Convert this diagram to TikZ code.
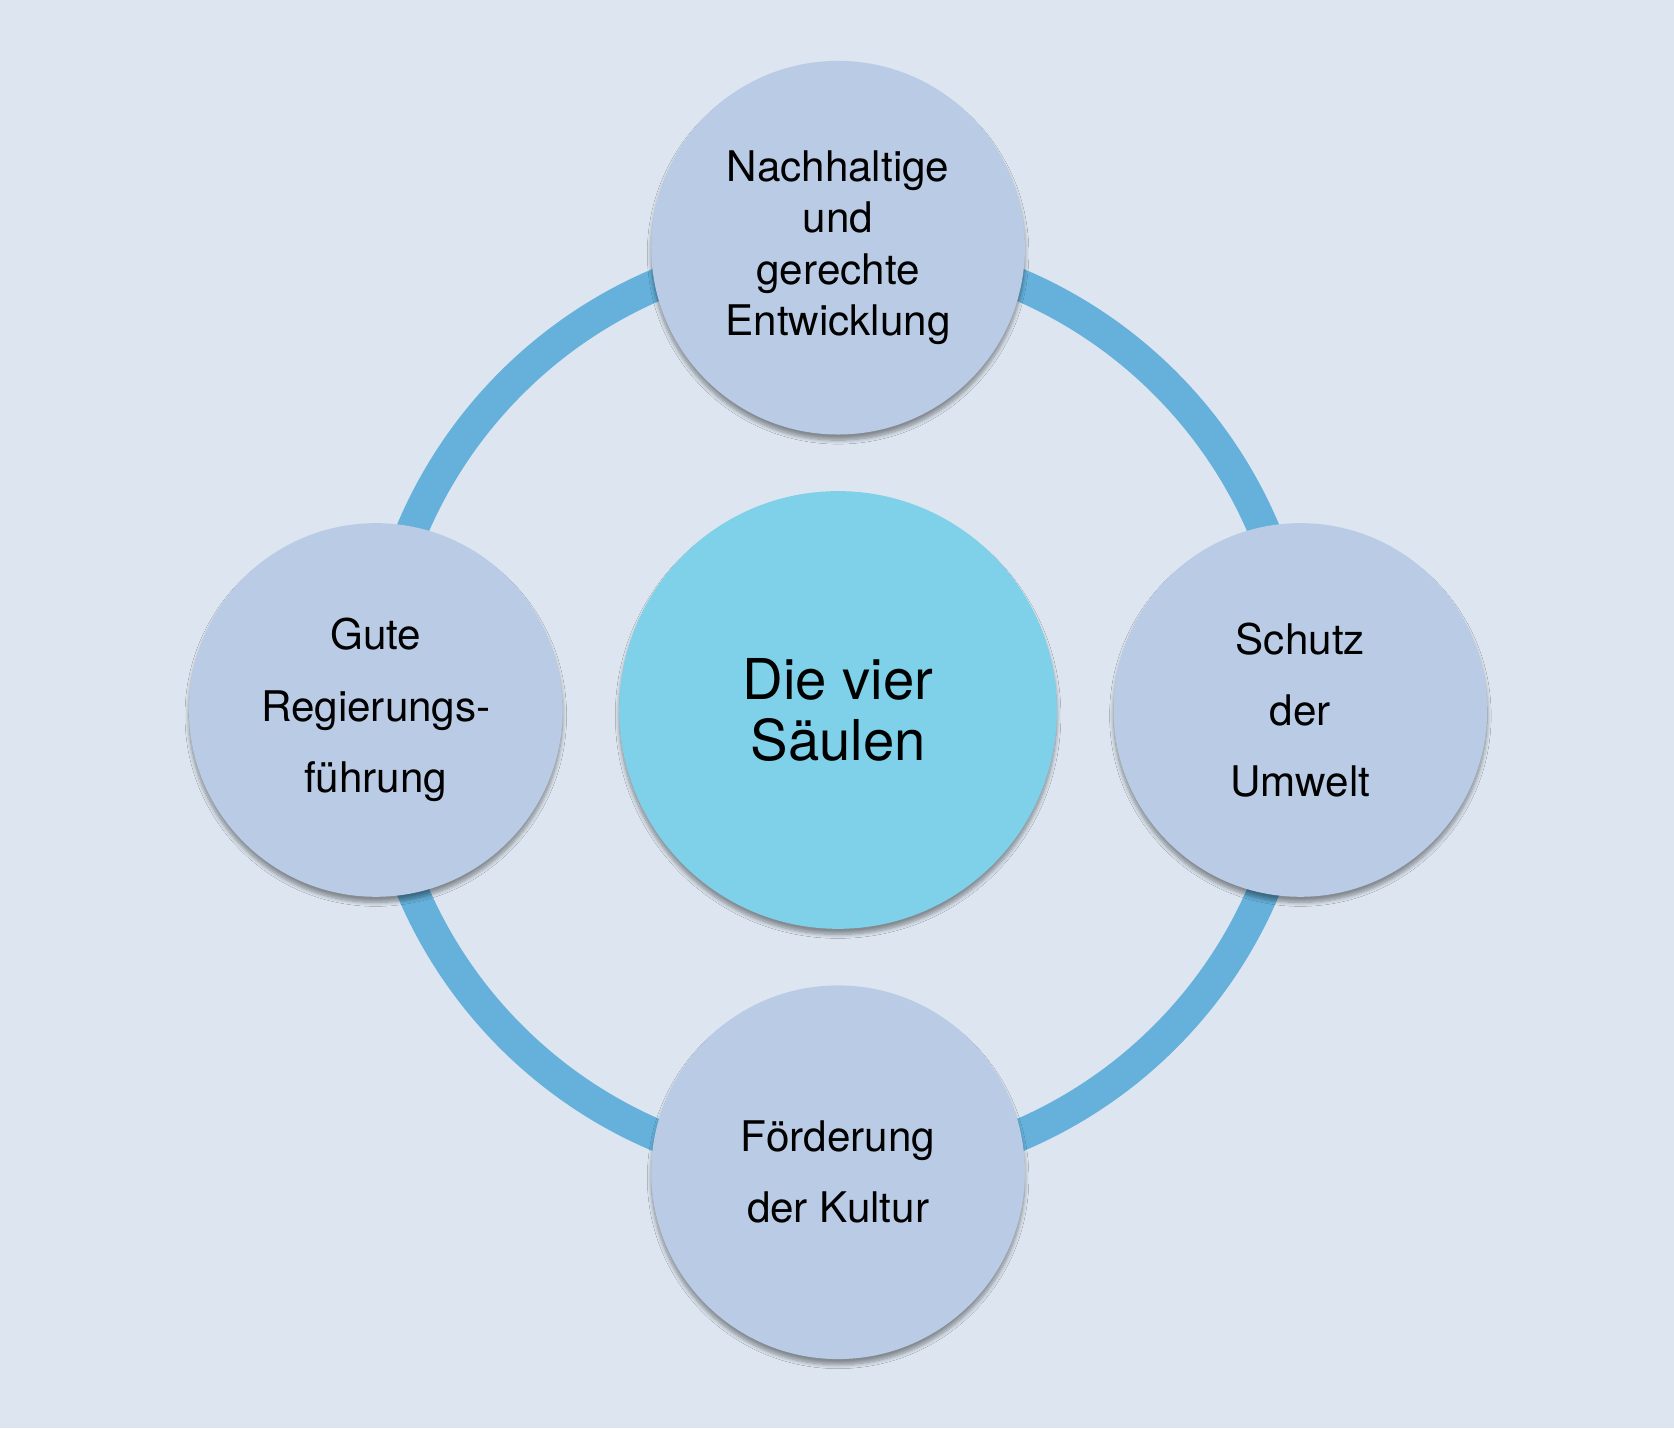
\documentclass[tikz,border=0pt]{standalone}
\usepackage{fontspec}
\setmainfont{TeX Gyre Heros}
\usetikzlibrary{shadows.blur}
\definecolor{bg}{HTML}{DDE6F0}
\definecolor{ring}{HTML}{65B1DB}
\definecolor{sat}{HTML}{BACCE5}
\definecolor{hub}{HTML}{7FD0E9}
\begin{document}
\begin{tikzpicture}[x=0.02cm,y=-0.02cm,
  satnode/.style={circle,fill=sat,minimum size=350*0.02cm,inner sep=0pt,align=center,
    font=\fontsize{22.5}{27}\selectfont,blur shadow={shadow blur steps=8,shadow xshift=0pt,shadow yshift=-3pt}},
  hubnode/.style={circle,fill=hub,minimum size=410*0.02cm,inner sep=0pt,align=center,
    font=\fontsize{30}{33}\selectfont,blur shadow={shadow blur steps=8,shadow xshift=0pt,shadow yshift=-3pt}}]
\fill[bg] (0,0) rectangle (1568,1338);
\useasboundingbox (0,0) rectangle (1568,1338);
\coordinate (c) at (785,665);
\draw[ring,line width=30*0.02cm] (c) circle[radius=433*0.02cm];
\node[hubnode] (hub) at (c) {Die vier\\Säulen};
\node[satnode,font=\fontsize{22.5}{27.5}\selectfont] (top) at (785,232) {Nachhaltige\\und\\gerechte\\Entwicklung};
\node[satnode,font=\fontsize{22.5}{38}\selectfont] (left) at (352,665) {Gute\\Regierungs-\\führung};
\node[satnode,font=\fontsize{22.5}{38}\selectfont] (right) at (1218,665) {Schutz\\der\\Umwelt};
\node[satnode,font=\fontsize{22.5}{38}\selectfont] (bottom) at (785,1098) {Förderung\\der Kultur};
\end{tikzpicture}
\end{document}
